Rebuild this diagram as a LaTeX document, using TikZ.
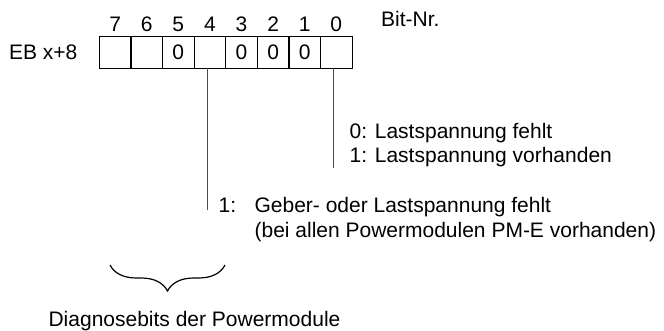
\documentclass[tikz,border=0pt]{standalone}
\usepackage{fontspec}
\setmainfont{Liberation Sans}
\usetikzlibrary{positioning}
\usetikzlibrary{calc}
\usetikzlibrary{math}
\usetikzlibrary{decorations.pathreplacing}

\begin{document}
\begin{tikzpicture}[x=1pt,y=1pt,line width=1.2pt,
    every node/.style={font=\fontsize{21}{25}\selectfont},
    bitbox/.style={draw, minimum size=\cell pt, inner sep=0pt, outer sep=0pt},
    bitnr/.style={inner sep=0pt},
    leader/.style={draw=black!70, line width=1.1pt},
    txt/.style={inner sep=0pt, anchor=base west}]

  \tikzmath{
    \cell    = 31.6;  % side of one bit cell
    \byteX   = 99.3;  % left edge of the byte
    \byteY   = 36.7;  % upper edge of the byte
    \numgap  = 4.4;   % gap between bit number and cell
    \shift   = 2.5;   % leader lines sit a bit left of the cell centre
    \linegap = 24.5;  % distance between two text lines
  }

  \useasboundingbox (0,0) rectangle (664,-331);

  % the byte EB x+8, bit 7 on the left
  \node[bitbox] (b7) at ({\byteX+\cell/2}, {-\byteY-\cell/2}) {};
  \node[bitbox, right=0pt of b7] (b6) {};
  \node[bitbox, right=0pt of b6] (b5) {0};
  \node[bitbox, right=0pt of b5] (b4) {};
  \node[bitbox, right=0pt of b4] (b3) {0};
  \node[bitbox, right=0pt of b3] (b2) {0};
  \node[bitbox, right=0pt of b2] (b1) {0};
  \node[bitbox, right=0pt of b1] (b0) {};

  % bit numbers
  \node[bitnr, above=\numgap pt of b7] (n7) {7};
  \node[bitnr, above=\numgap pt of b6] (n6) {6};
  \node[bitnr, above=\numgap pt of b5] (n5) {5};
  \node[bitnr, above=\numgap pt of b4] (n4) {4};
  \node[bitnr, above=\numgap pt of b3] (n3) {3};
  \node[bitnr, above=\numgap pt of b2] (n2) {2};
  \node[bitnr, above=\numgap pt of b1] (n1) {1};
  \node[bitnr, above=\numgap pt of b0] (n0) {0};

  \node[txt] (eb)    at (8.5,-60)   {EB x+8};
  \node[txt] (bitnr) at (380.5,-27) {Bit-Nr.};

  % leader lines
  \coordinate (e0) at ($(b0.south)+(-\shift,-99.7)$);
  \coordinate (e4) at ($(b4.south)+(-\shift,-141.7)$);
  \draw[leader] ([xshift=-\shift pt]b0.south) -- (e0);
  \draw[leader] ([xshift=-\shift pt]b4.south) -- (e4);

  % meaning of bit 0
  \node[txt] (fehlt) at (349,-138.5) {0: Lastspannung fehlt};
  \node[txt] (vorh)  at ($(fehlt.base west)+(0,-\linegap)$) {1: Lastspannung vorhanden};

  % meaning of bit 4
  \node[txt] (eins)  at (218,-212.7) {1:};
  \node[txt] (geber) at (254,-212.7) {Geber- oder Lastspannung fehlt};
  \node[txt] (pme)   at ($(geber.base west)+(0,-\linegap)$) {(bei allen Powermodulen PM-E vorhanden)};

  % brace under the diagnostic bits
  \coordinate (brl) at (110,-265);
  \coordinate (brr) at (225,-265);
  \draw[decorate, decoration={brace, amplitude=26pt}] (brr) -- (brl);
  \node[txt, anchor=base] (diag) at (194.5,-326.5) {Diagnosebits der Powermodule};

\end{tikzpicture}
\end{document}
